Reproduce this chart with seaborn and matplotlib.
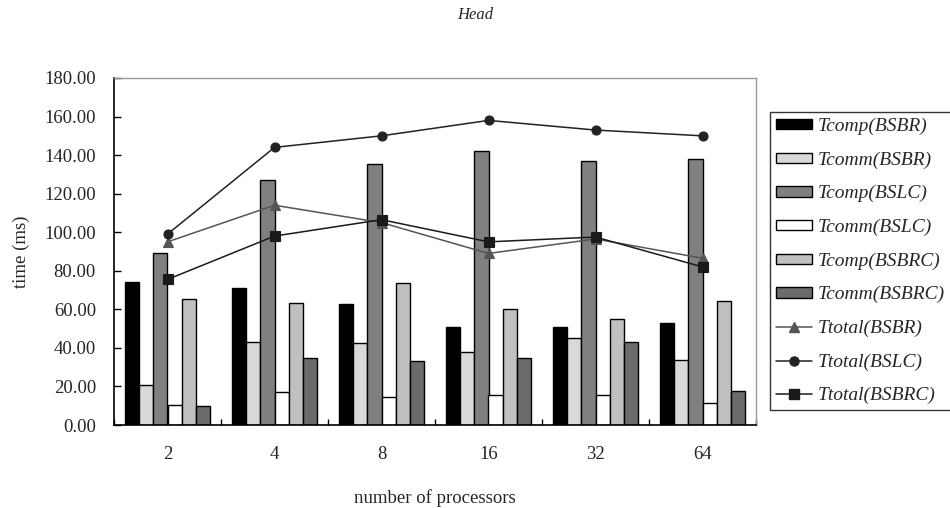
import numpy as np
import pandas as pd
import matplotlib
matplotlib.use("Agg")
import matplotlib.pyplot as plt
import seaborn as sns
from matplotlib.patches import Patch
from matplotlib.lines import Line2D
from matplotlib.ticker import FixedLocator, FormatStrFormatter

# ---- data ----
processors = ["2", "4", "8", "16", "32", "64"]
bar_series = ["Tcomp(BSBR)", "Tcomm(BSBR)", "Tcomp(BSLC)", "Tcomm(BSLC)", "Tcomp(BSBRC)", "Tcomm(BSBRC)"]
tcomp_bsbr = [74, 71, 63, 51, 51, 53]
tcomm_bsbr = [21, 43, 42.5, 38, 45, 33.5]
tcomp_bslc = [89, 127, 135.5, 142, 137, 138]
tcomm_bslc = [10.5, 17, 14.5, 15.5, 15.5, 11.5]
tcomp_bsbrc = [65.5, 63.5, 73.5, 60, 55, 64.5]
tcomm_bsbrc = [10, 35, 33, 35, 43, 17.5]
line_series = ["Ttotal(BSBR)", "Ttotal(BSLC)", "Ttotal(BSBRC)"]
ttotal_bsbr = [95, 114, 105, 89, 96.5, 86.5]
ttotal_bslc = [99, 144, 150, 158, 153, 150]
ttotal_bsbrc = [75.5, 98, 106.5, 95, 97.5, 82]

bar_colors = ["#000000", "#d9d9d9", "#808080", "#ffffff", "#c0c0c0", "#6b6b6b"]
line_colors = ["#555555", "#222222", "#1a1a1a"]
line_markers = ["^", "o", "s"]

bar_vals = [tcomp_bsbr, tcomm_bsbr, tcomp_bslc, tcomm_bslc, tcomp_bsbrc, tcomm_bsbrc]
line_vals = [ttotal_bsbr, ttotal_bslc, ttotal_bsbrc]

bars_df = pd.DataFrame([(p, s, v) for s, vals in zip(bar_series, bar_vals)
                        for p, v in zip(processors, vals)],
                       columns=["procs", "series", "time"])
lines_df = pd.DataFrame([(p, s, v) for s, vals in zip(line_series, line_vals)
                         for p, v in zip(processors, vals)],
                        columns=["procs", "series", "time"])

sns.set_style("white")
plt.rcParams["font.family"] = ["Liberation Serif", "DejaVu Serif"]

fig = plt.figure(figsize=(9.5, 5.08), dpi=100)
ax = fig.add_axes([114/950, 1-425/508, (756-114)/950, (425-78)/508])

sns.barplot(data=bars_df, x="procs", y="time", hue="series", order=processors,
            hue_order=bar_series, palette=bar_colors, width=0.8,
            edgecolor="black", linewidth=1.0, errorbar=None, legend=False, ax=ax,
            saturation=1)

sns.pointplot(data=lines_df, x="procs", y="time", hue="series", order=processors,
              hue_order=line_series, palette=line_colors, markers=line_markers,
              linestyles="-", dodge=False, errorbar=None, legend=False, ax=ax,
              markersize=6.5, linewidth=1.1)

ax.set_ylim(0, 180)
ax.set_xlim(-0.5, 5.5)
ax.yaxis.set_major_locator(FixedLocator(np.arange(0, 181, 20)))
ax.yaxis.set_major_formatter(FormatStrFormatter("%.2f"))
ax.tick_params(axis="y", direction="in", length=5, width=1, labelsize=13.5, color="black", pad=13, left=True)
ax.tick_params(axis="x", which="major", length=0, labelsize=13.5, pad=15)
ax.xaxis.set_minor_locator(FixedLocator(np.arange(-0.5, 6, 1)))
ax.tick_params(axis="x", which="minor", direction="in", length=4, width=1, color="black", bottom=True)

for s in ["left", "bottom"]:
    ax.spines[s].set_color("black")
    ax.spines[s].set_linewidth(1.2)
for s in ["top", "right"]:
    ax.spines[s].set_color("#9a9a9a")
    ax.spines[s].set_linewidth(1.0)

ax.set_xlabel("number of processors", fontsize=13.5, labelpad=19)
ax.set_ylabel("time (ms)", fontsize=13.5, labelpad=10)

fig.text(475/950, 1-15/508, "Head", ha="center", va="center", fontsize=12, style="italic")

handles = [Patch(facecolor=c, edgecolor="black", linewidth=1.0) for c in bar_colors]
handles += [Line2D([0], [0], color=c, marker=m, markersize=6.5, linewidth=1.1)
            for c, m in zip(line_colors, line_markers)]
labels = bar_series + line_series
leg = fig.legend(handles, labels, loc="upper left", bbox_to_anchor=(770/950, 1-112/508),
                 frameon=True, fancybox=False, shadow=False, edgecolor="black",
                 prop={"style": "italic", "size": 14}, handlelength=1.85,
                 handleheight=0.45, labelspacing=0.84, handletextpad=0.3,
                 borderaxespad=0, borderpad=0.3)
leg.get_frame().set_linewidth(1.0)

fig.savefig("out.png", dpi=100)
